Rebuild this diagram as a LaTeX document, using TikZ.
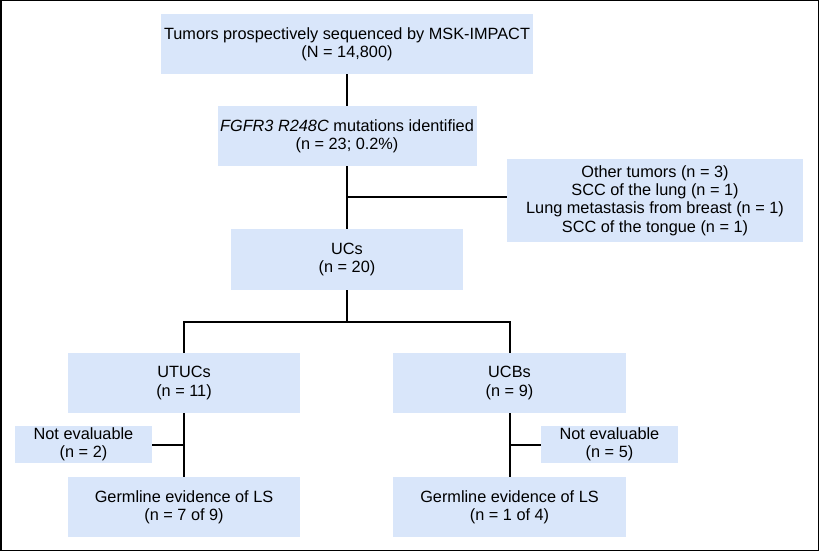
\documentclass[tikz,border=0pt]{standalone}
\usepackage{fontspec}
\setmainfont{Liberation Sans}
\definecolor{boxblue}{RGB}{217,230,250}
\begin{document}
\begin{tikzpicture}[x=1pt,y=-1pt,
  box/.style={fill=boxblue,draw=none,inner sep=0pt,align=center,
    font=\fontsize{16.3}{18.3}\selectfont},
  conn/.style={draw=black,line width=2pt}]
\useasboundingbox (0,0) rectangle (819,551);
\draw[line width=1.5pt] (0.75,0.75) rectangle (818.25,550.25);
\node[box,minimum width=372pt,minimum height=60pt] (top) at (347,44) {Tumors prospectively sequenced by MSK-IMPACT\\(N = 14,800)};
\node[box,minimum width=259pt,minimum height=60pt] (fgfr) at (347,136) {\textit{FGFR3 R248C} mutations identified\\(n = 23; 0.2\%)};
\node[box,minimum width=296pt,minimum height=83pt] (other) at (655,200.5) {Other tumors (n = 3)\\SCC of the lung (n = 1)\\Lung metastasis from breast (n = 1)\\SCC of the tongue (n = 1)};
\node[box,minimum width=232pt,minimum height=61pt] (ucs) at (347,259.5) {UCs\\(n = 20)};
\node[box,minimum width=232pt,minimum height=60pt] (utuc) at (184,383) {UTUCs\\(n = 11)};
\node[box,minimum width=233pt,minimum height=60pt] (ucb) at (509.5,383) {UCBs\\(n = 9)};
\node[box,minimum width=137pt,minimum height=37pt] (ne1) at (83.5,444.5) {Not evaluable\\(n = 2)};
\node[box,minimum width=137pt,minimum height=37pt] (ne2) at (609.5,444.5) {Not evaluable\\(n = 5)};
\node[box,minimum width=232pt,minimum height=60pt] (g1) at (184,507) {Germline evidence of LS\\(n = 7 of 9)};
\node[box,minimum width=233pt,minimum height=60pt] (g2) at (509.5,507) {Germline evidence of LS\\(n = 1 of 4)};
\coordinate (branch) at (347,197);
\coordinate (split) at (347,322);
\draw[conn] (top.south) -- (fgfr.north);
\draw[conn] (fgfr.south) -- (ucs.north);
\draw[conn] (branch) -- (branch -| other.west);
\draw[conn] (ucs.south) -- (split);
\draw[conn] (utuc.north) |- (split) -| (ucb.north);
\draw[conn] (utuc.south) -- (g1.north);
\draw[conn] (ucb.south) -- (g2.north);
\draw[conn] (ne1.east) -- (ne1.east -| utuc.south);
\draw[conn] (ne2.west) -- (ne2.west -| ucb.south);
\end{tikzpicture}
\end{document}
